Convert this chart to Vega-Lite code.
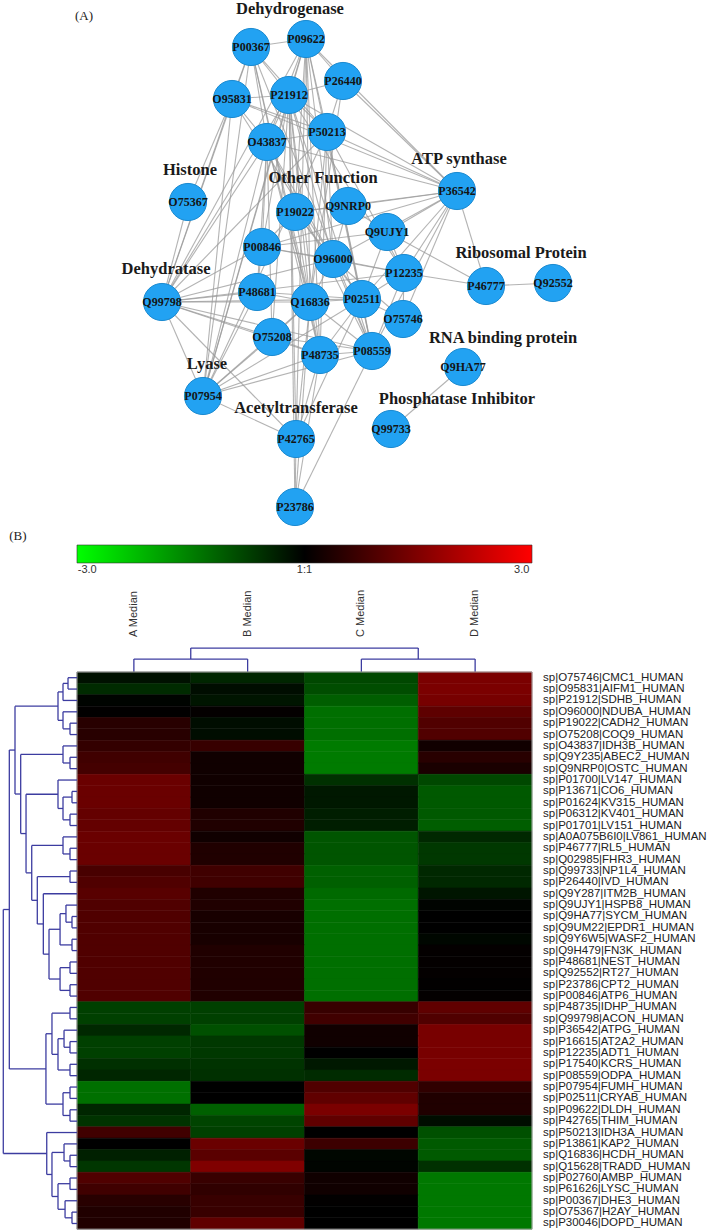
{
  "$schema": "https://vega.github.io/schema/vega-lite/v6.json",
  "padding": 0,
  "background": "white",
  "spacing": 0,
  "bounds": "flush",
  "config": {"view": {"stroke": null}},
  "datasets": {
    "one": [{}],
    "nodes": [
      {"id": "P00367", "x": 251, "y": 47}, {"id": "P09622", "x": 306, "y": 39}, {"id": "P26440", "x": 343, "y": 81},
      {"id": "O95831", "x": 232, "y": 99}, {"id": "P21912", "x": 289, "y": 95}, {"id": "P50213", "x": 327, "y": 132},
      {"id": "O43837", "x": 267, "y": 142}, {"id": "O75367", "x": 188, "y": 202}, {"id": "P19022", "x": 295, "y": 212},
      {"id": "Q9NRP0", "x": 348, "y": 206}, {"id": "P36542", "x": 457, "y": 191}, {"id": "P00846", "x": 262, "y": 247},
      {"id": "Q9UJY1", "x": 387, "y": 232}, {"id": "O96000", "x": 333, "y": 259}, {"id": "Q99798", "x": 162, "y": 302},
      {"id": "P48681", "x": 257, "y": 292}, {"id": "Q16836", "x": 310, "y": 302}, {"id": "P02511", "x": 362, "y": 299},
      {"id": "P12235", "x": 404, "y": 273}, {"id": "O75746", "x": 403, "y": 319}, {"id": "O75208", "x": 272, "y": 337},
      {"id": "P48735", "x": 320, "y": 355}, {"id": "P08559", "x": 372, "y": 351}, {"id": "P46777", "x": 486, "y": 286},
      {"id": "Q92552", "x": 553, "y": 283}, {"id": "Q9HA77", "x": 463, "y": 367}, {"id": "Q99733", "x": 391, "y": 429},
      {"id": "P07954", "x": 203, "y": 396}, {"id": "P42765", "x": 296, "y": 439}, {"id": "P23786", "x": 295, "y": 507}
    ],
    "cats": [
      {"t": "Dehydrogenase", "x": 290, "y": 9}, {"t": "Histone", "x": 190, "y": 170},
      {"t": "Other Function", "x": 323, "y": 178}, {"t": "ATP synthase", "x": 459, "y": 159},
      {"t": "Dehydratase", "x": 166, "y": 269}, {"t": "Ribosomal Protein", "x": 521, "y": 253},
      {"t": "Lyase", "x": 207, "y": 364}, {"t": "RNA binding protein", "x": 503, "y": 338},
      {"t": "Acetyltransferase", "x": 296, "y": 408}, {"t": "Phosphatase Inhibitor", "x": 457, "y": 399}
    ],
    "edges": [
      {"s":"P00367","t":"P09622"},{"s":"P00367","t":"P21912"},{"s":"P00367","t":"O43837"},{"s":"P00367","t":"P50213"},
      {"s":"P00367","t":"Q99798"},{"s":"P00367","t":"P07954"},{"s":"P00367","t":"P48735"},{"s":"P00367","t":"Q16836"},
      {"s":"P00367","t":"P08559"},{"s":"P00367","t":"O95831"},{"s":"P09622","t":"P21912"},{"s":"P09622","t":"O43837"},
      {"s":"P09622","t":"P50213"},{"s":"P09622","t":"P26440"},{"s":"P09622","t":"P36542"},{"s":"P09622","t":"P08559"},
      {"s":"P09622","t":"Q16836"},{"s":"P09622","t":"P48735"},{"s":"P09622","t":"Q99798"},{"s":"P09622","t":"P07954"},
      {"s":"P09622","t":"O96000"},{"s":"P09622","t":"P19022"},{"s":"P26440","t":"P50213"},{"s":"P26440","t":"P36542"},
      {"s":"P26440","t":"P21912"},{"s":"P26440","t":"Q16836"},{"s":"O95831","t":"P21912"},{"s":"O95831","t":"O43837"},
      {"s":"O95831","t":"P50213"},{"s":"O95831","t":"O75367"},{"s":"O95831","t":"P36542"},{"s":"O95831","t":"O96000"},
      {"s":"O95831","t":"Q99798"},{"s":"O95831","t":"P07954"},{"s":"P21912","t":"O43837"},{"s":"P21912","t":"P50213"},
      {"s":"P21912","t":"P36542"},{"s":"P21912","t":"Q99798"},{"s":"P21912","t":"P07954"},{"s":"P21912","t":"O96000"},
      {"s":"P21912","t":"P12235"},{"s":"P21912","t":"Q16836"},{"s":"P21912","t":"P48735"},{"s":"P21912","t":"P08559"},
      {"s":"P21912","t":"P00846"},{"s":"P21912","t":"O75208"},{"s":"P21912","t":"P19022"},{"s":"O43837","t":"P50213"},
      {"s":"O43837","t":"P36542"},{"s":"O43837","t":"Q99798"},{"s":"O43837","t":"P07954"},{"s":"O43837","t":"P48735"},
      {"s":"O43837","t":"P08559"},{"s":"O43837","t":"Q16836"},{"s":"O43837","t":"O75208"},{"s":"O43837","t":"P00846"},
      {"s":"O43837","t":"O96000"},{"s":"O43837","t":"P48681"},{"s":"P50213","t":"P36542"},{"s":"P50213","t":"Q99798"},
      {"s":"P50213","t":"P48735"},{"s":"P50213","t":"P08559"},{"s":"P50213","t":"Q16836"},{"s":"P50213","t":"O96000"},
      {"s":"P50213","t":"P12235"},{"s":"P50213","t":"P02511"},{"s":"P50213","t":"P07954"},{"s":"P36542","t":"Q9NRP0"},
      {"s":"P36542","t":"Q9UJY1"},{"s":"P36542","t":"P12235"},{"s":"P36542","t":"P02511"},{"s":"P36542","t":"P00846"},
      {"s":"P36542","t":"P46777"},{"s":"P36542","t":"O96000"},{"s":"P36542","t":"P19022"},{"s":"P36542","t":"P08559"},
      {"s":"P36542","t":"O75746"},{"s":"Q99798","t":"P48681"},{"s":"Q99798","t":"Q16836"},{"s":"Q99798","t":"P02511"},
      {"s":"Q99798","t":"O75208"},{"s":"Q99798","t":"P48735"},{"s":"Q99798","t":"P08559"},{"s":"Q99798","t":"P07954"},
      {"s":"Q99798","t":"P12235"},{"s":"Q99798","t":"O75367"},{"s":"Q99798","t":"P42765"},{"s":"Q99798","t":"P00846"},
      {"s":"Q99798","t":"O96000"},{"s":"P07954","t":"P48735"},{"s":"P07954","t":"P08559"},{"s":"P07954","t":"Q16836"},
      {"s":"P07954","t":"O75208"},{"s":"P07954","t":"P42765"},{"s":"P07954","t":"P02511"},{"s":"P07954","t":"P48681"},
      {"s":"P42765","t":"Q16836"},{"s":"P42765","t":"P48735"},{"s":"P42765","t":"P23786"},{"s":"P42765","t":"P02511"},
      {"s":"P42765","t":"P21912"},{"s":"P42765","t":"P09622"},{"s":"P23786","t":"P08559"},{"s":"P23786","t":"Q16836"},
      {"s":"P23786","t":"P48735"},{"s":"P23786","t":"P21912"},{"s":"Q16836","t":"P48735"},{"s":"Q16836","t":"P08559"},
      {"s":"Q16836","t":"P02511"},{"s":"Q16836","t":"O75208"},{"s":"Q16836","t":"O96000"},{"s":"Q16836","t":"P19022"},
      {"s":"P48735","t":"P08559"},{"s":"P48735","t":"O75208"},{"s":"P48735","t":"P02511"},{"s":"P08559","t":"P02511"},
      {"s":"P08559","t":"O96000"},{"s":"P08559","t":"P12235"},{"s":"P08559","t":"O75208"},{"s":"P02511","t":"O75746"},
      {"s":"P02511","t":"P12235"},{"s":"P02511","t":"O96000"},{"s":"P02511","t":"P19022"},{"s":"P02511","t":"P48681"},
      {"s":"P02511","t":"Q9UJY1"},{"s":"O96000","t":"P12235"},{"s":"O96000","t":"P00846"},{"s":"O96000","t":"P19022"},
      {"s":"O96000","t":"Q9NRP0"},{"s":"O96000","t":"O75746"},{"s":"P12235","t":"P46777"},{"s":"P12235","t":"Q9UJY1"},
      {"s":"P12235","t":"P00846"},{"s":"P12235","t":"O75746"},{"s":"Q9UJY1","t":"P46777"},{"s":"Q9UJY1","t":"P00846"},
      {"s":"Q9UJY1","t":"Q9NRP0"},{"s":"P46777","t":"Q92552"},{"s":"Q9HA77","t":"Q99733"},{"s":"P19022","t":"P00846"},
      {"s":"P19022","t":"Q9NRP0"},{"s":"P48681","t":"Q16836"},{"s":"P00846","t":"P48681"}
    ],
    "cols": [
      {"k": "A", "name": "A Median", "c": 0, "c2": 1, "m": 0.5},
      {"k": "B", "name": "B Median", "c": 1, "c2": 2, "m": 1.5},
      {"k": "C", "name": "C Median", "c": 2, "c2": 3, "m": 2.5},
      {"k": "D", "name": "D Median", "c": 3, "c2": 4, "m": 3.5}
    ],
    "ticks": [
      {"t": "-3.0", "p": 0.09},
      {"t": "1:1", "p": 2},
      {"t": "3.0", "p": 3.91}
    ],
    "genes": [
      {"g":"sp|O75746|CMC1_HUMAN","r":0,"r2":1,"A":-0.2,"B":-0.45,"C":-0.85,"D":1.45},
      {"g":"sp|O95831|AIFM1_HUMAN","r":1,"r2":2,"A":-0.5,"B":-0.15,"C":-0.9,"D":1.45},
      {"g":"sp|P21912|SDHB_HUMAN","r":2,"r2":3,"A":-0.05,"B":-0.25,"C":-1.1,"D":1.4},
      {"g":"sp|O96000|NDUBA_HUMAN","r":3,"r2":4,"A":0.02,"B":0.05,"C":-1.3,"D":1.1},
      {"g":"sp|P19022|CADH2_HUMAN","r":4,"r2":5,"A":0.47,"B":-0.15,"C":-1.3,"D":0.95},
      {"g":"sp|O75208|COQ9_HUMAN","r":5,"r2":6,"A":0.47,"B":-0.15,"C":-1.3,"D":0.95},
      {"g":"sp|O43837|IDH3B_HUMAN","r":6,"r2":7,"A":0.6,"B":0.65,"C":-1.45,"D":0.2},
      {"g":"sp|Q9Y235|ABEC2_HUMAN","r":7,"r2":8,"A":0.75,"B":0.19,"C":-1.45,"D":0.47},
      {"g":"sp|Q9NRP0|OSTC_HUMAN","r":8,"r2":9,"A":0.8,"B":0.19,"C":-1.45,"D":0.3},
      {"g":"sp|P01700|LV147_HUMAN","r":9,"r2":10,"A":1.25,"B":0.19,"C":-0.56,"D":-0.85},
      {"g":"sp|P13671|CO6_HUMAN","r":10,"r2":11,"A":1.25,"B":0.19,"C":-0.28,"D":-1.05},
      {"g":"sp|P01624|KV315_HUMAN","r":11,"r2":12,"A":1.25,"B":0.19,"C":-0.28,"D":-1.05},
      {"g":"sp|P06312|KV401_HUMAN","r":12,"r2":13,"A":1.18,"B":0.38,"C":-0.35,"D":-1.05},
      {"g":"sp|P01701|LV151_HUMAN","r":13,"r2":14,"A":1.18,"B":0.38,"C":-0.35,"D":-1.1},
      {"g":"sp|A0A075B6I0|LV861_HUMAN","r":14,"r2":15,"A":1.25,"B":0.19,"C":-1.0,"D":-0.47},
      {"g":"sp|P46777|RL5_HUMAN","r":15,"r2":16,"A":1.25,"B":0.38,"C":-1.0,"D":-0.66},
      {"g":"sp|Q02985|FHR3_HUMAN","r":16,"r2":17,"A":1.25,"B":0.38,"C":-1.0,"D":-0.66},
      {"g":"sp|Q99733|NP1L4_HUMAN","r":17,"r2":18,"A":0.85,"B":0.75,"C":-1.13,"D":-0.47},
      {"g":"sp|P26440|IVD_HUMAN","r":18,"r2":19,"A":0.94,"B":0.75,"C":-1.13,"D":-0.47},
      {"g":"sp|Q9Y287|ITM2B_HUMAN","r":19,"r2":20,"A":1.04,"B":0.38,"C":-1.25,"D":-0.25},
      {"g":"sp|Q9UJY1|HSPB8_HUMAN","r":20,"r2":21,"A":0.94,"B":0.38,"C":-1.3,"D":-0.05},
      {"g":"sp|Q9HA77|SYCM_HUMAN","r":21,"r2":22,"A":0.94,"B":0.28,"C":-1.3,"D":0.0},
      {"g":"sp|Q9UM22|EPDR1_HUMAN","r":22,"r2":23,"A":0.94,"B":0.28,"C":-1.3,"D":0.0},
      {"g":"sp|Q9Y6W5|WASF2_HUMAN","r":23,"r2":24,"A":0.94,"B":0.28,"C":-1.3,"D":-0.08},
      {"g":"sp|Q9H479|FN3K_HUMAN","r":24,"r2":25,"A":0.94,"B":0.38,"C":-1.3,"D":0.05},
      {"g":"sp|P48681|NEST_HUMAN","r":25,"r2":26,"A":0.94,"B":0.38,"C":-1.3,"D":0.05},
      {"g":"sp|Q92552|RT27_HUMAN","r":26,"r2":27,"A":0.94,"B":0.38,"C":-1.3,"D":0.05},
      {"g":"sp|P23786|CPT2_HUMAN","r":27,"r2":28,"A":0.94,"B":0.38,"C":-1.3,"D":0.02},
      {"g":"sp|P00846|ATP6_HUMAN","r":28,"r2":29,"A":0.94,"B":0.38,"C":-1.3,"D":0.05},
      {"g":"sp|P48735|IDHP_HUMAN","r":29,"r2":30,"A":-0.75,"B":-0.75,"C":0.65,"D":1.13},
      {"g":"sp|Q99798|ACON_HUMAN","r":30,"r2":31,"A":-0.75,"B":-0.75,"C":0.75,"D":0.94},
      {"g":"sp|P36542|ATPG_HUMAN","r":31,"r2":32,"A":-0.47,"B":-0.94,"C":0.19,"D":1.41},
      {"g":"sp|P16615|AT2A2_HUMAN","r":32,"r2":33,"A":-0.75,"B":-0.66,"C":0.19,"D":1.41},
      {"g":"sp|P12235|ADT1_HUMAN","r":33,"r2":34,"A":-0.75,"B":-0.66,"C":0.0,"D":1.41},
      {"g":"sp|P17540|KCRS_HUMAN","r":34,"r2":35,"A":-0.56,"B":-0.6,"C":-0.28,"D":1.45},
      {"g":"sp|P08559|ODPA_HUMAN","r":35,"r2":36,"A":-0.45,"B":-0.56,"C":-0.5,"D":1.45},
      {"g":"sp|P07954|FUMH_HUMAN","r":36,"r2":37,"A":-1.32,"B":0.0,"C":0.94,"D":0.56},
      {"g":"sp|P02511|CRYAB_HUMAN","r":37,"r2":38,"A":-1.32,"B":0.0,"C":1.13,"D":0.38},
      {"g":"sp|P09622|DLDH_HUMAN","r":38,"r2":39,"A":-0.45,"B":-1.13,"C":1.45,"D":0.38},
      {"g":"sp|P42765|THIM_HUMAN","r":39,"r2":40,"A":-0.6,"B":-0.8,"C":1.13,"D":-0.15},
      {"g":"sp|P50213|IDH3A_HUMAN","r":40,"r2":41,"A":0.75,"B":-0.75,"C":0.0,"D":-0.94},
      {"g":"sp|P13861|KAP2_HUMAN","r":41,"r2":42,"A":0.0,"B":1.25,"C":0.7,"D":-1.06},
      {"g":"sp|Q16836|HCDH_HUMAN","r":42,"r2":43,"A":-0.38,"B":1.06,"C":-0.08,"D":-1.06},
      {"g":"sp|Q15628|TRADD_HUMAN","r":43,"r2":44,"A":-0.64,"B":1.5,"C":-0.05,"D":-0.56},
      {"g":"sp|P02760|AMBP_HUMAN","r":44,"r2":45,"A":0.94,"B":0.66,"C":0.19,"D":-1.41},
      {"g":"sp|P61626|LYSC_HUMAN","r":45,"r2":46,"A":0.75,"B":0.56,"C":0.19,"D":-1.41},
      {"g":"sp|P00367|DHE3_HUMAN","r":46,"r2":47,"A":0.47,"B":0.66,"C":0.02,"D":-1.41},
      {"g":"sp|O75367|H2AY_HUMAN","r":47,"r2":48,"A":0.38,"B":0.66,"C":0.0,"D":-1.41},
      {"g":"sp|P30046|DOPD_HUMAN","r":48,"r2":49,"A":0.38,"B":1.13,"C":0.0,"D":-1.41}
    ],
    "dendro": [
      {"h":-0.079,"xa":0,"ya":0.5,"xb":0,"yb":1.5},
      {"h":-0.123,"xa":-0.079,"ya":1.0,"xb":0,"yb":2.5},
      {"h":-0.0615,"xa":0,"ya":4.5,"xb":0,"yb":5.5},
      {"h":-0.123,"xa":0,"ya":3.5,"xb":-0.0615,"yb":5.0},
      {"h":-0.167,"xa":-0.123,"ya":1.75,"xb":-0.123,"yb":4.25},
      {"h":-0.0615,"xa":0,"ya":7.5,"xb":0,"yb":8.5},
      {"h":-0.123,"xa":0,"ya":6.5,"xb":-0.0615,"yb":8.0},
      {"h":-0.044,"xa":0,"ya":10.5,"xb":0,"yb":11.5},
      {"h":-0.0615,"xa":0,"ya":12.5,"xb":0,"yb":13.5},
      {"h":-0.123,"xa":-0.044,"ya":11.0,"xb":-0.0615,"yb":13.0},
      {"h":-0.167,"xa":0,"ya":9.5,"xb":-0.123,"yb":12.0},
      {"h":-0.0615,"xa":0,"ya":15.5,"xb":0,"yb":16.5},
      {"h":-0.123,"xa":0,"ya":14.5,"xb":-0.0615,"yb":16.0},
      {"h":-0.0615,"xa":0,"ya":17.5,"xb":0,"yb":18.5},
      {"h":-0.044,"xa":0,"ya":21.5,"xb":0,"yb":22.5},
      {"h":-0.097,"xa":0,"ya":20.5,"xb":-0.044,"yb":22.0},
      {"h":-0.044,"xa":0,"ya":23.5,"xb":0,"yb":24.5},
      {"h":-0.149,"xa":-0.097,"ya":21.25,"xb":-0.044,"yb":24.0},
      {"h":-0.0615,"xa":0,"ya":25.5,"xb":0,"yb":26.5},
      {"h":-0.0615,"xa":0,"ya":27.5,"xb":0,"yb":28.5},
      {"h":-0.149,"xa":-0.0615,"ya":26.0,"xb":-0.0615,"yb":28.0},
      {"h":-0.246,"xa":-0.149,"ya":22.625,"xb":-0.149,"yb":27.0},
      {"h":-0.296,"xa":0,"ya":19.5,"xb":-0.246,"yb":24.8125},
      {"h":-0.349,"xa":-0.0615,"ya":18.0,"xb":-0.296,"yb":22.156},
      {"h":-0.398,"xa":-0.123,"ya":15.25,"xb":-0.349,"yb":20.078},
      {"h":-0.448,"xa":-0.167,"ya":10.75,"xb":-0.398,"yb":17.664},
      {"h":-0.495,"xa":-0.123,"ya":7.25,"xb":-0.448,"yb":14.207},
      {"h":-0.545,"xa":-0.167,"ya":3.0,"xb":-0.495,"yb":10.729},
      {"h":-0.0615,"xa":0,"ya":29.5,"xb":0,"yb":30.5},
      {"h":-0.0615,"xa":0,"ya":32.5,"xb":0,"yb":33.5},
      {"h":-0.114,"xa":0,"ya":31.5,"xb":-0.0615,"yb":33.0},
      {"h":-0.0615,"xa":0,"ya":34.5,"xb":0,"yb":35.5},
      {"h":-0.167,"xa":-0.114,"ya":32.25,"xb":-0.0615,"yb":35.0},
      {"h":-0.22,"xa":-0.0615,"ya":30.0,"xb":-0.167,"yb":33.625},
      {"h":-0.0615,"xa":0,"ya":36.5,"xb":0,"yb":37.5},
      {"h":-0.0615,"xa":0,"ya":38.5,"xb":0,"yb":39.5},
      {"h":-0.123,"xa":-0.0615,"ya":37.0,"xb":-0.0615,"yb":39.0},
      {"h":-0.273,"xa":-0.22,"ya":31.8125,"xb":-0.123,"yb":38.0},
      {"h":-0.595,"xa":-0.545,"ya":6.864,"xb":-0.273,"yb":34.906},
      {"h":-0.0615,"xa":0,"ya":42.5,"xb":0,"yb":43.5},
      {"h":-0.114,"xa":0,"ya":41.5,"xb":-0.0615,"yb":43.0},
      {"h":-0.0615,"xa":0,"ya":44.5,"xb":0,"yb":45.5},
      {"h":-0.044,"xa":0,"ya":47.5,"xb":0,"yb":48.5},
      {"h":-0.105,"xa":0,"ya":46.5,"xb":-0.044,"yb":48.0},
      {"h":-0.167,"xa":-0.0615,"ya":45.0,"xb":-0.105,"yb":47.25},
      {"h":-0.22,"xa":-0.114,"ya":42.25,"xb":-0.167,"yb":46.125},
      {"h":-0.266,"xa":0,"ya":40.5,"xb":-0.22,"yb":44.1875},
      {"h":-0.648,"xa":-0.595,"ya":20.885,"xb":-0.266,"yb":42.344}
    ],
    "topdendro": [
      {"h":-1.14,"xa":0.5,"xb":1.5,"ha":0,"hb":0},
      {"h":-1.14,"xa":2.5,"xb":3.5,"ha":0,"hb":0},
      {"h":-2.11,"xa":1.0,"xb":3.0,"ha":-1.14,"hb":-1.14}
    ]
  },
  "vconcat": [
    {
      "width": 709,
      "height": 530,
      "layer": [
        {
          "data": {"name": "edges"},
          "transform": [
            {"lookup": "s", "from": {"data": {"name": "nodes"}, "key": "id", "fields": ["x", "y"]}, "as": ["sx", "sy"]},
            {"lookup": "t", "from": {"data": {"name": "nodes"}, "key": "id", "fields": ["x", "y"]}, "as": ["tx", "ty"]}
          ],
          "mark": {"type": "rule", "color": "#9a9a9a", "strokeWidth": 1.1, "opacity": 0.75},
          "encoding": {
            "x": {"field": "sx", "type": "quantitative", "scale": {"domain": [0, 709], "nice": false, "zero": false}, "axis": null},
            "y": {"field": "sy", "type": "quantitative", "scale": {"domain": [0, 530], "nice": false, "zero": false, "reverse": true}, "axis": null},
            "x2": {"field": "tx"},
            "y2": {"field": "ty"}
          }
        },
        {
          "data": {"name": "nodes"},
          "mark": {"type": "point", "shape": "circle", "filled": true, "size": 1380, "fill": "#22a2f2", "stroke": "#1b8ad0", "strokeWidth": 1, "opacity": 1},
          "encoding": {
            "x": {"field": "x", "type": "quantitative", "scale": {"domain": [0, 709], "nice": false, "zero": false}, "axis": null},
            "y": {"field": "y", "type": "quantitative", "scale": {"domain": [0, 530], "nice": false, "zero": false, "reverse": true}, "axis": null}
          }
        },
        {
          "data": {"name": "nodes"},
          "mark": {"type": "text", "font": "Liberation Serif", "fontWeight": "bold", "fontSize": 12, "color": "#141414", "align": "center", "baseline": "middle"},
          "encoding": {
            "x": {"field": "x", "type": "quantitative", "scale": {"domain": [0, 709], "nice": false, "zero": false}, "axis": null},
            "y": {"field": "y", "type": "quantitative", "scale": {"domain": [0, 530], "nice": false, "zero": false, "reverse": true}, "axis": null},
            "text": {"field": "id"}
          }
        },
        {
          "data": {"name": "cats"},
          "mark": {"type": "text", "font": "Liberation Serif", "fontWeight": "bold", "fontSize": 16.5, "color": "#1a1a1a", "align": "center", "baseline": "middle"},
          "encoding": {
            "x": {"field": "x", "type": "quantitative", "scale": {"domain": [0, 709], "nice": false, "zero": false}, "axis": null},
            "y": {"field": "y", "type": "quantitative", "scale": {"domain": [0, 530], "nice": false, "zero": false, "reverse": true}, "axis": null},
            "text": {"field": "t"}
          }
        },
        {
          "data": {"name": "one"},
          "mark": {"type": "text", "text": "(A)", "font": "Liberation Serif", "fontSize": 13, "color": "#222", "align": "center", "baseline": "middle"},
          "encoding": {
            "x": {"datum": 84, "type": "quantitative", "scale": {"domain": [0, 709], "nice": false, "zero": false}, "axis": null},
            "y": {"datum": 16, "type": "quantitative", "scale": {"domain": [0, 530], "nice": false, "zero": false, "reverse": true}, "axis": null}
          }
        }
      ]
    },
    {
      "width": 709,
      "height": 701,
      "layer": [
        {
          "data": {"name": "one"},
          "mark": {"type": "rect", "color": {"gradient": "linear", "x1": 0, "x2": 1, "y1": 0, "y2": 0, "stops": [{"offset": 0, "color": "#00ff00"}, {"offset": 0.5, "color": "#000000"}, {"offset": 1, "color": "#ff0000"}]}, "stroke": "#333333", "strokeWidth": 0.6},
          "encoding": {
            "x": {"datum": 0, "type": "quantitative", "scale": {"domain": [-0.6769, 5.556], "nice": false, "zero": false}, "axis": null},
            "x2": {"datum": 4},
            "y": {"datum": -11.17, "type": "quantitative", "scale": {"domain": [-12.49, 49.16], "nice": false, "zero": false, "reverse": true}, "axis": null},
            "y2": {"datum": -9.59}
          }
        },
        {
          "data": {"name": "ticks"},
          "mark": {"type": "text", "font": "Liberation Sans", "fontSize": 11, "color": "#333", "align": "center", "baseline": "middle"},
          "encoding": {
            "x": {"field": "p", "type": "quantitative"},
            "y": {"datum": -8.95, "type": "quantitative"},
            "text": {"field": "t"}
          }
        },
        {
          "data": {"name": "one"},
          "mark": {"type": "text", "text": "(B)", "font": "Liberation Serif", "fontSize": 13, "color": "#222", "align": "center", "baseline": "middle"},
          "encoding": {
            "x": {"datum": -0.52, "type": "quantitative"},
            "y": {"datum": -12.0, "type": "quantitative"}
          }
        },
        {
          "data": {"name": "cols"},
          "mark": {"type": "text", "font": "Liberation Sans", "fontSize": 11, "color": "#333", "angle": 270, "align": "left", "baseline": "middle"},
          "encoding": {
            "x": {"field": "m", "type": "quantitative"},
            "y": {"datum": -3.08, "type": "quantitative"},
            "text": {"field": "name"}
          }
        },
        {
          "data": {"name": "topdendro"},
          "mark": {"type": "rule", "color": "#3c3ca0", "strokeWidth": 1.3},
          "encoding": {
            "x": {"field": "xa", "type": "quantitative"},
            "x2": {"field": "xb"},
            "y": {"field": "h", "type": "quantitative"}
          }
        },
        {
          "data": {"name": "topdendro"},
          "mark": {"type": "rule", "color": "#3c3ca0", "strokeWidth": 1.3},
          "encoding": {
            "x": {"field": "xa", "type": "quantitative"},
            "y": {"field": "h", "type": "quantitative"},
            "y2": {"field": "ha"}
          }
        },
        {
          "data": {"name": "topdendro"},
          "mark": {"type": "rule", "color": "#3c3ca0", "strokeWidth": 1.3},
          "encoding": {
            "x": {"field": "xb", "type": "quantitative"},
            "y": {"field": "h", "type": "quantitative"},
            "y2": {"field": "hb"}
          }
        },
        {
          "data": {"name": "genes"},
          "transform": [
            {"fold": ["A", "B", "C", "D"], "as": ["k", "v"]},
            {"lookup": "k", "from": {"data": {"name": "cols"}, "key": "k", "fields": ["c", "c2"]}}
          ],
          "mark": {"type": "rect", "strokeWidth": 0.6},
          "encoding": {
            "x": {"field": "c", "type": "quantitative"},
            "x2": {"field": "c2"},
            "y": {"field": "r", "type": "quantitative"},
            "y2": {"field": "r2"},
            "fill": {"field": "v", "type": "quantitative", "scale": {"domain": [-3, 0, 3], "range": ["#00ff00", "#000000", "#ff0000"], "interpolate": "rgb"}, "legend": null},
            "stroke": {"field": "v", "type": "quantitative", "scale": {"domain": [-3, 0, 3], "range": ["#00ff00", "#000000", "#ff0000"], "interpolate": "rgb"}, "legend": null}
          }
        },
        {
          "data": {"name": "one"},
          "mark": {"type": "rect", "filled": false, "fillOpacity": 0, "stroke": "#aaaaaa", "strokeWidth": 1},
          "encoding": {
            "x": {"datum": 0, "type": "quantitative"},
            "x2": {"datum": 4},
            "y": {"datum": 0, "type": "quantitative"},
            "y2": {"datum": 49}
          }
        },
        {
          "data": {"name": "dendro"},
          "mark": {"type": "rule", "color": "#3c3ca0", "strokeWidth": 1.3},
          "encoding": {
            "x": {"field": "h", "type": "quantitative"},
            "y": {"field": "ya", "type": "quantitative"},
            "y2": {"field": "yb"}
          }
        },
        {
          "data": {"name": "dendro"},
          "mark": {"type": "rule", "color": "#3c3ca0", "strokeWidth": 1.3},
          "encoding": {
            "x": {"field": "h", "type": "quantitative"},
            "x2": {"field": "xa"},
            "y": {"field": "ya", "type": "quantitative"}
          }
        },
        {
          "data": {"name": "dendro"},
          "mark": {"type": "rule", "color": "#3c3ca0", "strokeWidth": 1.3},
          "encoding": {
            "x": {"field": "h", "type": "quantitative"},
            "x2": {"field": "xb"},
            "y": {"field": "yb", "type": "quantitative"}
          }
        },
        {
          "data": {"name": "genes"},
          "mark": {"type": "text", "font": "Liberation Sans", "fontSize": 11.5, "color": "#222", "align": "left", "baseline": "middle", "dx": 11, "dy": 5.68},
          "encoding": {
            "x": {"datum": 4, "type": "quantitative"},
            "y": {"field": "r", "type": "quantitative"},
            "text": {"field": "g"}
          }
        }
      ]
    }
  ]
}
